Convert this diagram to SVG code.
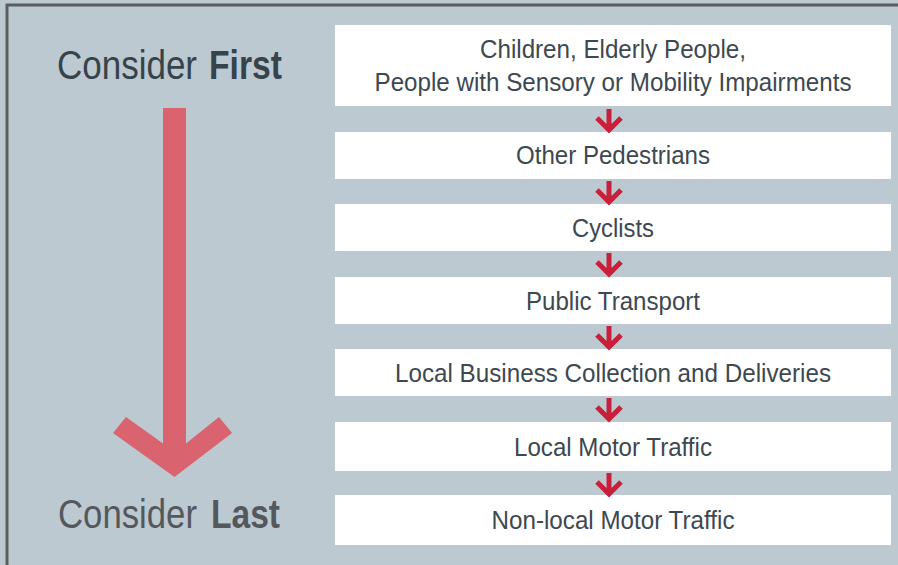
<svg xmlns="http://www.w3.org/2000/svg" width="898" height="565" viewBox="0 0 898 565">
<defs>
<style>
.box{fill:#ffffff}
.t{font-family:"Liberation Sans",Arial,sans-serif;font-size:25px;fill:#3d4850;text-anchor:middle}
.big{font-family:"Liberation Sans",Arial,sans-serif;font-size:40px;text-anchor:start}
.sa{fill:none;stroke:#c8203a;stroke-width:5}
</style>
<g id="sarrow"><path class="sa" d="M0,0 V21 M-12,9 L0,21 L12,9"/></g>
</defs>
<rect x="0" y="0" width="898" height="565" fill="#bdc9d1"/>
<path d="M7,565 V5 H898" fill="none" stroke="#5a5e63" stroke-width="3"/>
<g id="title-first" fill="#37434b"><text class="big" x="57" y="79" textLength="140" lengthAdjust="spacingAndGlyphs">Consider</text><text class="big" x="209" y="79" font-weight="bold" textLength="73" lengthAdjust="spacingAndGlyphs">First</text></g>
<g id="title-last" fill="#54585d"><text class="big" x="58" y="528" textLength="139" lengthAdjust="spacingAndGlyphs">Consider</text><text class="big" x="211" y="528" font-weight="bold" textLength="69" lengthAdjust="spacingAndGlyphs">Last</text></g>
<g id="big-arrow"><polygon fill="#d9636f" points="163,108 186,108 186,443.5 219,417 232,433 174.5,477 113,433 126,417 163,443.5"/></g>
<g id="n1"><rect class="box" x="335" y="25" width="556" height="81"/><text class="t" x="613" y="58" textLength="266" lengthAdjust="spacingAndGlyphs">Children, Elderly People,</text><text class="t" x="613" y="91" textLength="477" lengthAdjust="spacingAndGlyphs">People with Sensory or Mobility Impairments</text></g>
<g id="n2"><rect class="box" x="335" y="132" width="556" height="47"/><text class="t" x="613" y="164" textLength="194" lengthAdjust="spacingAndGlyphs">Other Pedestrians</text></g>
<g id="n3"><rect class="box" x="335" y="204" width="556" height="47"/><text class="t" x="613" y="237" textLength="82" lengthAdjust="spacingAndGlyphs">Cyclists</text></g>
<g id="n4"><rect class="box" x="335" y="277" width="556" height="47"/><text class="t" x="613" y="310" textLength="174" lengthAdjust="spacingAndGlyphs">Public Transport</text></g>
<g id="n5"><rect class="box" x="335" y="349" width="556" height="47"/><text class="t" x="613" y="382" textLength="436" lengthAdjust="spacingAndGlyphs">Local Business Collection and Deliveries</text></g>
<g id="n6"><rect class="box" x="335" y="422" width="556" height="49"/><text class="t" x="613" y="456" textLength="198" lengthAdjust="spacingAndGlyphs">Local Motor Traffic</text></g>
<g id="n7"><rect class="box" x="335" y="495" width="556" height="50"/><text class="t" x="613" y="529" textLength="243" lengthAdjust="spacingAndGlyphs">Non-local Motor Traffic</text></g>
<g id="connectors">
<use href="#sarrow" x="609" y="109"/>
<use href="#sarrow" x="609" y="181"/>
<use href="#sarrow" x="609" y="253"/>
<use href="#sarrow" x="609" y="326"/>
<use href="#sarrow" x="609" y="398"/>
<use href="#sarrow" x="609" y="473"/>
</g>
</svg>
